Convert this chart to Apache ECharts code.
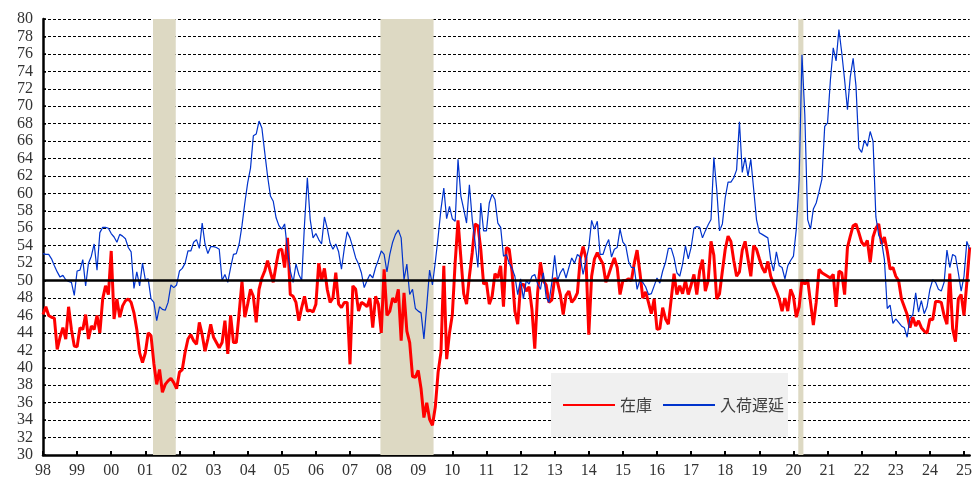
<!DOCTYPE html>
<html>
<head>
<meta charset="utf-8">
<script src="https://cdn.jsdelivr.net/npm/echarts@6/dist/echarts.min.js"></script>
<style>
html,body{margin:0;padding:0;background:#fff;}
#chart{width:975px;height:479px;}
</style>
</head>
<body>
<div id="chart"></div>
<script>
// Tick labels (one per January, 1998..2025)
const yearLabels = ['98','99','00','01','02','03','04','05','06','07','08','09','10','11','12','13','14','15','16','17','18','19','20','21','22','23','24','25'];

// 在庫 (monthly, Jan 1998 .. Mar 2025)
const inventory = [
  46.1, 47.0, 46.0, 45.8, 45.7, 42.1, 43.5, 44.6, 43.3, 47.0, 44.4, 42.5,
  42.4, 44.6, 44.4, 46.1, 43.3, 44.8, 44.4, 46.0, 44.0, 47.9, 49.4, 48.4,
  53.4, 45.6, 47.9, 45.8, 47.1, 47.7, 47.9, 47.5, 46.3, 44.4, 41.7, 40.6,
  41.7, 44.0, 43.7, 40.5, 38.1, 39.8, 37.2, 38.1, 38.5, 38.8, 38.3, 37.6,
  39.5, 39.8, 41.8, 43.3, 43.8, 43.1, 42.7, 45.2, 43.8, 41.9, 43.3, 45.0,
  43.5, 42.9, 42.3, 42.9, 45.4, 41.6, 46.0, 42.9, 42.9, 46.3, 49.9, 45.8,
  47.3, 49.0, 48.2, 45.2, 49.0, 50.3, 51.1, 52.3, 51.0, 49.8, 51.8, 53.5,
  53.6, 51.5, 54.9, 48.4, 48.2, 47.5, 45.4, 46.9, 48.2, 46.5, 46.6, 46.4,
  47.3, 52.0, 50.0, 51.4, 49.0, 47.5, 48.0, 50.9, 47.3, 46.9, 47.5, 47.5,
  40.4, 49.4, 49.0, 46.5, 47.5, 47.3, 47.0, 48.0, 44.6, 48.2, 47.3, 44.0,
  51.3, 46.0, 46.5, 48.0, 47.5, 49.0, 43.1, 48.6, 44.2, 42.9, 39.0, 38.9,
  39.7, 37.6, 34.3, 36.0, 34.1, 33.4, 35.5, 39.5, 41.8, 51.7, 41.0, 44.0,
  46.1, 52.1, 56.9, 52.6, 48.5, 47.3, 50.5, 53.2, 56.5, 56.3, 53.6, 49.6,
  49.8, 47.3, 48.2, 50.8, 50.3, 51.7, 47.0, 53.8, 53.6, 51.0, 46.5, 45.0,
  49.4, 49.6, 48.8, 49.3, 46.7, 42.2, 48.6, 52.1, 50.0, 49.5, 47.5, 47.8,
  50.3, 49.8, 48.4, 46.1, 48.3, 48.8, 47.5, 47.9, 48.6, 52.5, 53.9, 52.6,
  43.8, 50.5, 52.5, 53.2, 52.5, 51.9, 49.8, 50.7, 51.7, 52.6, 51.5, 48.4,
  50.0, 50.0, 50.2, 50.0, 52.0, 53.5, 50.9, 48.0, 48.7, 47.5, 46.2, 47.9,
  44.4, 44.5, 46.9, 45.6, 45.0, 47.9, 50.8, 48.4, 49.4, 48.5, 50.0, 48.4,
  49.5, 50.7, 48.4, 51.1, 52.4, 48.8, 50.0, 54.5, 52.9, 47.9, 48.5, 51.1,
  53.6, 55.1, 54.5, 52.3, 50.5, 51.0, 53.5, 54.5, 52.5, 50.5, 54.0, 53.6,
  52.5, 51.5, 50.9, 52.2, 50.5, 49.6, 48.8, 47.9, 46.5, 48.0, 46.5, 49.0,
  48.2, 45.8, 47.0, 50.1, 49.6, 50.1, 47.5, 44.9, 47.5, 51.3, 50.9, 50.7,
  50.5, 50.3, 50.7, 47.0, 51.1, 50.9, 48.4, 53.8, 55.1, 56.3, 56.5, 55.5,
  54.4, 54.0, 54.6, 52.1, 55.0, 56.0, 56.5, 54.2, 55.0, 53.4, 51.3, 51.5,
  50.5, 50.0, 47.9, 47.0, 46.1, 44.6, 45.8, 44.8, 45.4, 44.6, 44.2, 44.0,
  45.6, 45.5, 47.6, 47.6, 47.5, 46.0, 45.0, 50.8, 44.5, 43.0, 47.9, 48.4,
  46.0, 49.8, 53.8
];

// 入荷遅延 (monthly, Jan 1998 .. Mar 2025)
const deliveries = [
  53.1, 53.0, 53.0, 52.5, 51.7, 51.0, 50.4, 50.6, 50.1, 49.9, 49.8, 48.3,
  51.1, 51.2, 52.4, 49.4, 52.0, 52.8, 54.2, 51.2, 55.5, 56.1, 56.1, 56.0,
  55.4, 55.0, 54.4, 55.3, 55.1, 54.8, 53.8, 53.3, 49.1, 51.0, 49.4, 52.0,
  50.1, 50.2, 47.9, 47.5, 45.4, 47.0, 46.7, 46.6, 47.5, 49.5, 49.2, 49.5,
  51.1, 51.4, 52.0, 53.4, 53.4, 54.4, 54.7, 53.7, 56.6, 54.2, 53.1, 53.9,
  53.9, 53.8, 53.6, 50.0, 50.7, 49.8, 51.5, 53.0, 53.1, 54.2, 56.3, 58.9,
  61.2, 62.9, 66.6, 66.8, 68.3, 67.5, 64.7, 62.0, 59.7, 59.1, 57.2, 56.3,
  55.9, 56.5, 53.5, 51.1, 49.8, 51.9, 50.7, 50.0, 56.5, 61.8, 57.0, 54.9,
  55.4, 54.7, 54.2, 57.3, 56.0, 54.3, 53.6, 54.2, 53.3, 51.3, 53.7, 55.6,
  54.9, 53.8, 52.6, 51.9, 50.9, 49.2, 50.0, 50.7, 50.3, 51.5, 52.4, 53.4,
  53.0, 51.0, 53.0, 54.4, 55.3, 55.8, 54.9, 50.1, 51.9, 48.4, 49.0, 46.8,
  46.5, 46.3, 43.3, 47.1, 51.2, 49.5, 52.1, 55.0, 58.2, 60.6, 57.1, 58.5,
  57.1, 56.8, 63.9, 59.7, 58.2, 56.6, 61.0, 57.0, 54.4, 51.5, 58.9, 55.7,
  55.7, 58.9, 59.9, 59.3, 56.6, 56.1, 52.8, 53.0, 52.0, 51.4, 50.5, 48.4,
  50.2, 47.9, 50.0, 49.6, 50.5, 50.7, 49.6, 49.0, 50.9, 48.1, 47.5, 49.8,
  52.9, 50.0, 50.9, 51.4, 50.3, 51.5, 52.6, 52.0, 53.0, 52.7, 50.7, 52.3,
  53.8, 56.9, 55.9, 56.8, 53.0, 53.0, 54.0, 54.7, 52.7, 53.6, 53.8, 55.9,
  54.4, 54.0, 52.2, 51.5, 51.5, 49.0, 50.1, 49.8, 49.3, 48.4, 48.5, 49.4,
  50.3, 49.7, 51.1, 52.1, 53.7, 53.7, 52.6, 50.9, 50.5, 51.9, 54.0, 52.5,
  53.8, 56.0, 56.2, 56.1, 54.9, 55.7, 56.4, 57.0, 64.1, 60.5, 55.7, 56.5,
  59.5, 61.3, 61.3, 61.8, 62.7, 68.2, 62.4, 64.1, 62.0, 63.9, 60.5, 57.0,
  55.5, 55.3, 55.1, 54.9, 52.4, 51.1, 53.3, 51.7, 51.5, 50.2, 51.7, 52.3,
  52.8, 55.9, 61.5, 75.9, 69.0, 57.0, 55.9, 58.2, 58.9, 60.2, 61.6, 67.7,
  68.1, 73.0, 76.7, 75.2, 78.8, 76.1, 73.0, 69.6, 73.4, 75.5, 72.3, 65.2,
  64.7, 66.1, 65.4, 67.1, 66.0, 57.3, 55.2, 54.5, 52.4, 46.8, 47.2, 45.1,
  45.6, 45.2, 44.8, 44.6, 43.5, 45.7, 46.1, 48.6, 46.4, 47.7, 46.2, 47.0,
  49.0, 50.1, 49.8, 49.0, 48.8, 49.8, 53.5, 51.5, 53.0, 52.8, 50.9, 48.8,
  50.5, 54.5, 53.6
];

// Recession periods, in months from Jan 1998
const recessionStart = [38.7, 118.7, 265.7];
const recessionEnd = [46.7, 137.4, 267.5];

const seriesNames = ['在庫', '入荷遅延'];

const toPairs = arr => arr.map((v, i) => [i, v]);
const serif = 'Liberation Serif';

const chart = echarts.init(document.getElementById('chart'), null, {renderer: 'canvas'});
chart.setOption({
  animation: false,
  backgroundColor: '#ffffff',
  grid: {left: 43, right: 0, top: 19, bottom: 23},
  legend: {
    data: seriesNames,
    left: 551, top: 373,
    padding: [24, 4, 24, 11],
    itemGap: 10, itemWidth: 52, itemHeight: 14,
    backgroundColor: '#f0f0f0',
    itemStyle: {opacity: 0},
    textStyle: {fontFamily: 'Noto Sans CJK JP', fontSize: 16, color: '#404040'}
  },
  xAxis: {
    type: 'value', min: 0, max: inventory.length - 1, interval: 12,
    axisLine: {show: true, onZero: false, lineStyle: {color: '#000', width: 2.5}},
    axisTick: {show: true, inside: true, length: 4, lineStyle: {color: '#000', width: 2}},
    axisLabel: {
      formatter: v => (v % 12 === 0 && yearLabels[v / 12] !== undefined) ? yearLabels[v / 12] : '',
      showMaxLabel: false,
      fontFamily: serif, fontSize: 16, color: '#333', margin: 8
    },
    splitLine: {show: false}
  },
  yAxis: {
    type: 'value', min: 30, max: 80, interval: 2,
    axisLine: {show: true, lineStyle: {color: '#000', width: 2.5}},
    axisTick: {show: true, inside: true, length: 3, lineStyle: {color: '#000', width: 1.5}},
    axisLabel: {fontFamily: serif, fontSize: 16, color: '#333', margin: 10},
    splitLine: {show: true, lineStyle: {type: [3, 2], color: '#000', width: 1}}
  },
  series: [
    {
      name: 'recession', type: 'line', data: [], z: 1, silent: true,
      markArea: {
        silent: true,
        itemStyle: {color: '#ddd9c3', opacity: 1},
        data: recessionStart.map((s, i) => [{xAxis: s}, {xAxis: recessionEnd[i]}])
      }
    },
    {
      name: 'base', type: 'line', data: [], z: 2, silent: true,
      markLine: {
        silent: true, symbol: 'none', label: {show: false},
        lineStyle: {color: '#000', width: 2.5, type: 'solid'},
        data: [{yAxis: 50}]
      }
    },
    {
      name: seriesNames[0], type: 'line', data: toPairs(inventory), z: 3,
      symbol: 'none', showSymbol: false,
      lineStyle: {color: '#ff0000', width: 3},
      itemStyle: {color: '#ff0000'}
    },
    {
      name: seriesNames[1], type: 'line', data: toPairs(deliveries), z: 4,
      symbol: 'none', showSymbol: false,
      lineStyle: {color: '#0033cc', width: 1.2},
      itemStyle: {color: '#0033cc'}
    }
  ]
});
</script>
</body>
</html>
